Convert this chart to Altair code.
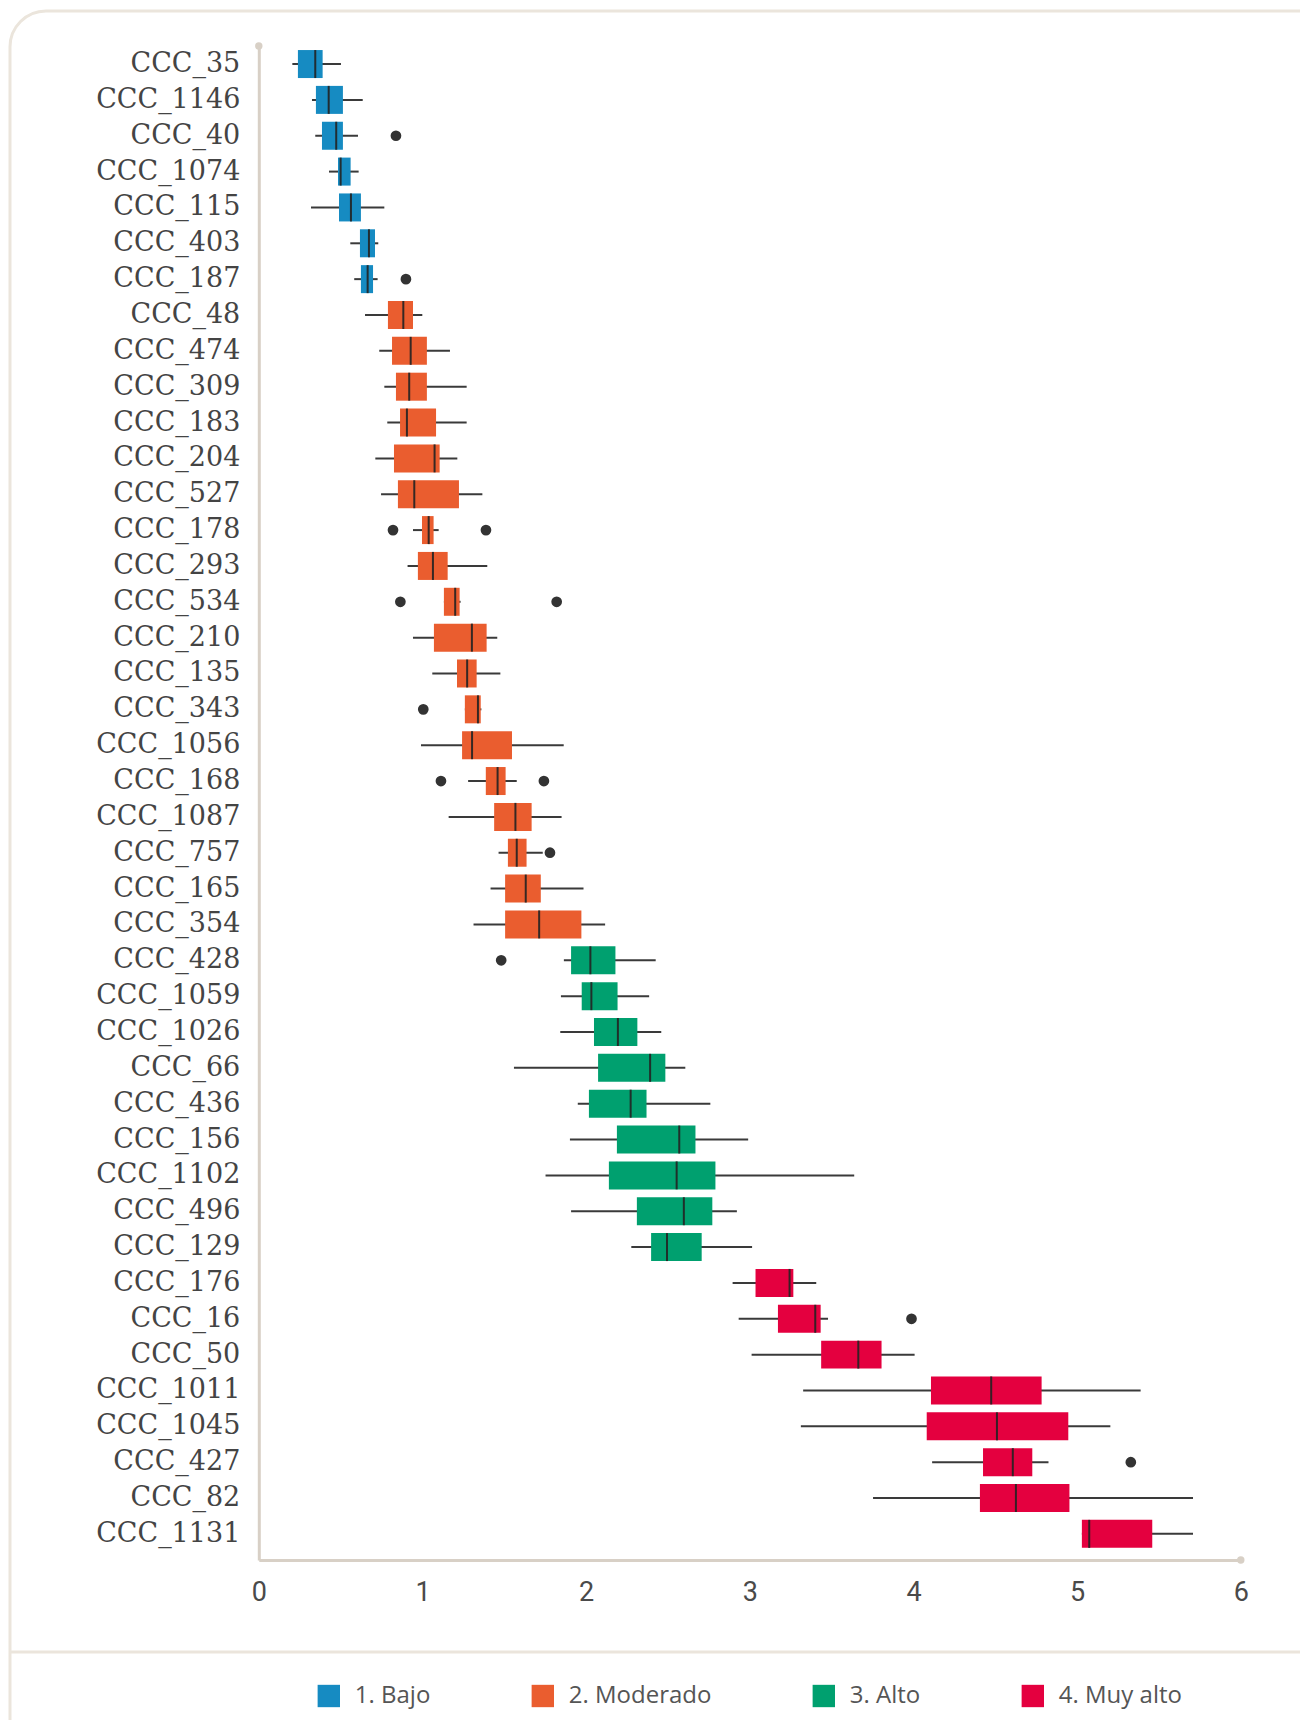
import altair as alt
import pandas as pd

labels = ["CCC_35", "CCC_1146", "CCC_40", "CCC_1074", "CCC_115", "CCC_403", "CCC_187",
          "CCC_48", "CCC_474", "CCC_309", "CCC_183", "CCC_204", "CCC_527", "CCC_178",
          "CCC_293", "CCC_534", "CCC_210", "CCC_135", "CCC_343", "CCC_1056", "CCC_168",
          "CCC_1087", "CCC_757", "CCC_165", "CCC_354", "CCC_428", "CCC_1059", "CCC_1026",
          "CCC_66", "CCC_436", "CCC_156", "CCC_1102", "CCC_496", "CCC_129", "CCC_176",
          "CCC_16", "CCC_50", "CCC_1011", "CCC_1045", "CCC_427", "CCC_82", "CCC_1131"]

group_names = ["1. Bajo", "2. Moderado", "3. Alto", "4. Muy alto"]
group_colors = ["#168bc2", "#ea5d2f", "#00a06f", "#e4003f"]
groups = (["1. Bajo"] * 7 + ["2. Moderado"] * 18 + ["3. Alto"] * 9 + ["4. Muy alto"] * 8)

whisker_low = [0.205, 0.325, 0.345, 0.429, 0.319, 0.559, 0.583,
               0.649, 0.736, 0.767, 0.785, 0.712, 0.747, 0.942, 0.909, 1.131, 0.942,
               1.060, 1.259, 0.991, 1.279, 1.160, 1.465, 1.416, 1.312,
               1.864, 1.846, 1.842, 1.559, 1.949, 1.901, 1.752, 1.908, 2.276,
               2.895, 2.932, 3.011, 3.326, 3.312, 4.114, 3.753, 5.029]
q1 = [0.239, 0.349, 0.386, 0.484, 0.490, 0.618, 0.624,
      0.789, 0.814, 0.838, 0.863, 0.826, 0.850, 0.997, 0.972, 1.131, 1.070,
      1.211, 1.259, 1.242, 1.387, 1.438, 1.522, 1.505, 1.505,
      1.908, 1.973, 2.048, 2.073, 2.017, 2.188, 2.139, 2.310, 2.397,
      3.035, 3.172, 3.436, 4.107, 4.081, 4.425, 4.406, 5.029]
median = [0.345, 0.427, 0.473, 0.500, 0.563, 0.673, 0.665,
          0.883, 0.928, 0.919, 0.905, 1.074, 0.950, 1.038, 1.064, 1.200, 1.302,
          1.273, 1.339, 1.303, 1.459, 1.568, 1.576, 1.631, 1.713,
          2.026, 2.032, 2.194, 2.391, 2.272, 2.569, 2.553, 2.597, 2.494,
          3.243, 3.400, 3.663, 4.475, 4.510, 4.607, 4.626, 5.074]
q3 = [0.390, 0.514, 0.514, 0.561, 0.624, 0.710, 0.698,
      0.942, 1.027, 1.027, 1.083, 1.105, 1.223, 1.068, 1.154, 1.227, 1.392,
      1.331, 1.356, 1.547, 1.508, 1.667, 1.636, 1.723, 1.971,
      2.179, 2.192, 2.313, 2.484, 2.369, 2.668, 2.790, 2.771, 2.706,
      3.266, 3.433, 3.805, 4.783, 4.946, 4.726, 4.953, 5.459]
whisker_high = [0.502, 0.635, 0.606, 0.610, 0.767, 0.730, 0.726,
                0.999, 1.168, 1.270, 1.270, 1.213, 1.366, 1.099, 1.396, 1.233, 1.457,
                1.476, 1.360, 1.863, 1.576, 1.850, 1.735, 1.984, 2.116,
                2.425, 2.385, 2.459, 2.606, 2.759, 2.990, 3.638, 2.921, 3.014,
                3.406, 3.478, 4.007, 5.388, 5.203, 4.825, 5.708, 5.708]

outlier_labels = ["CCC_40", "CCC_187", "CCC_178", "CCC_178", "CCC_534", "CCC_534",
                  "CCC_343", "CCC_168", "CCC_168", "CCC_757", "CCC_428", "CCC_16", "CCC_427"]
outlier_values = [0.838, 0.899, 0.820, 1.388, 0.865, 1.820,
                  1.005, 1.113, 1.742, 1.779, 1.481, 3.988, 5.328]

x_ticks = [0, 1, 2, 3, 4, 5, 6]

df = pd.DataFrame({"label": labels, "group": groups, "lo": whisker_low, "q1": q1,
                   "med": median, "q3": q3, "hi": whisker_high})
odf = pd.DataFrame({"label": outlier_labels, "value": outlier_values})
one = pd.DataFrame({"d": [0]})

W, H = 982, 1514
AXIS_COL = "#d8d0c6"
FRAME_COL = "#ebe5dc"

yscale = alt.Scale(domain=labels, paddingInner=0.219, paddingOuter=0.2255, align=0.25)
xscale = alt.Scale(domain=[0, 6], nice=False, zero=False)

yenc = alt.Y("label:N", scale=yscale,
             axis=alt.Axis(title=None, labelFont="DejaVu Serif", labelFontSize=27,
                           labelColor="#444444", labelPadding=19, ticks=False,
                           domainColor=AXIS_COL, domainWidth=3, labelLimit=400))
xaxis = alt.Axis(values=x_ticks, title=None, labelFont="Roboto", labelFontSize=27,
                 labelColor="#4a4a4a", labelPadding=20, ticks=False, labelFlush=False,
                 grid=False, domainColor=AXIS_COL, domainWidth=3)

color = alt.Color("group:N", scale=alt.Scale(domain=group_names, range=group_colors),
                  legend=alt.Legend(title=None, orient="none", legendX=58, legendY=1638,
                                    direction="horizontal", symbolType="square",
                                    symbolSize=500, symbolStrokeWidth=0, symbolOpacity=1,
                                    labelFont="Open Sans", labelFontSize=24,
                                    labelColor="#555555", labelOffset=14,
                                    columnPadding=100))

base = alt.Chart(df)

frame = alt.Chart(one).mark_rect(fill="transparent", stroke=FRAME_COL, strokeWidth=3,
                                 cornerRadius=36).encode(
    x=alt.value(-248.8), x2=alt.value(1150), y=alt.value(-35), y2=alt.value(1760))
sep = alt.Chart(one).mark_rule(stroke=FRAME_COL, strokeWidth=3).encode(
    x=alt.value(-248.8), x2=alt.value(1150), y=alt.value(1606))

whisk = base.mark_rule(color="#3a3a3a", strokeWidth=2).encode(
    y=yenc, x=alt.X("lo:Q", scale=xscale, axis=xaxis), x2="hi:Q")
box = base.mark_bar(opacity=1).encode(
    y=yenc, x=alt.X("q1:Q", scale=xscale, axis=xaxis), x2="q3:Q", color=color)
med = base.mark_tick(color="#222222", thickness=2, size=28, opacity=0.9).encode(
    y=yenc, x=alt.X("med:Q", scale=xscale, axis=xaxis))
outl = alt.Chart(odf).mark_circle(color="#333333", size=115, opacity=1).encode(
    y=yenc, x=alt.X("value:Q", scale=xscale, axis=xaxis))

dot_top = alt.Chart(one).mark_circle(color=AXIS_COL, size=55, opacity=1).encode(
    x=alt.value(0), y=alt.value(0))
dot_right = alt.Chart(one).mark_circle(color=AXIS_COL, size=55, opacity=1).encode(
    x=alt.value(W), y=alt.value(H))

chart = alt.layer(frame, sep, whisk, box, med, outl, dot_top, dot_right).properties(
    width=W, height=H,
    padding={"left": 250.8, "top": 38, "right": 59, "bottom": 160},
    autosize=alt.AutoSizeParams(type="none"),
    background="white",
).configure_view(strokeWidth=0)

chart.save("out.html", embed_options={"renderer": "svg", "actions": False})
